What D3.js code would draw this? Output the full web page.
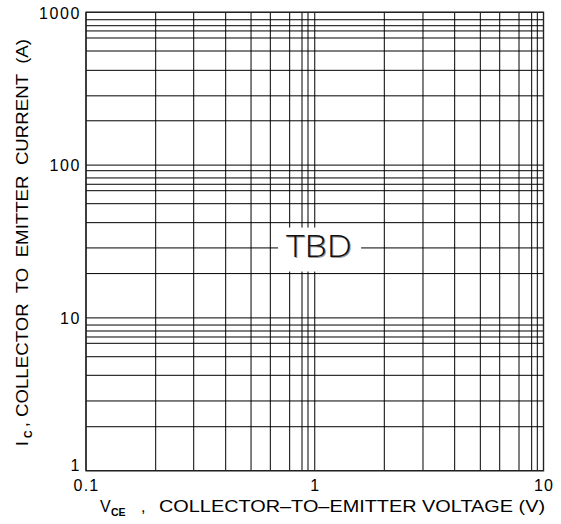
<!DOCTYPE html>
<html>
<head>
<meta charset="utf-8">
<script src="https://cdn.jsdelivr.net/npm/d3@7"></script>
<style>
  html, body { margin: 0; padding: 0; background: #fff; }
  svg { display: block; }
</style>
</head>
<body>
<svg id="chart" width="561" height="524"></svg>
<script>
// ---- data ----
const xDomain = [0.1, 10];
const yDomain = [1, 1000];
const xTickValues = [0.1, 1, 10];
const xTickLabels = ["0.1", "1", "10"];
const yTickValues = [1, 10, 100, 1000];
const yTickLabels = ["1", "10", "100", "1000"];
// grid lines as drawn in the reference (hand-drafted log grid)
const xGridValues = [0.1, 0.2017, 0.2957, 0.408, 0.5266, 0.6394, 0.777, 0.8796, 0.9344,
                     1, 2.014, 2.973, 4.09, 5.294, 6.435, 7.815, 8.878, 9.395, 10];
const yGridValues = [1, 1.94, 2.86, 4.21, 5.57, 6.82, 7.50, 8.21, 8.98,
                     10, 19.5, 28.7, 42.0, 55.9, 68.0, 74.9, 82.4, 91.9,
                     100, 195, 284, 417, 558, 679, 755, 817, 894, 1000];
const annotationText = "TBD";
const annotationAt = [1.05, 28];
const xTitleMain = "V";
const xTitleSub = "CE";
const xTitleRest = "COLLECTOR\u2013TO\u2013EMITTER VOLTAGE (V)";
const yTitleMain = "I";
const yTitleSub = "C";
const yTitleRest = "COLLECTOR  TO  EMITTER  CURRENT  (A)";

// ---- layout ----
const plot = { left: 86, right: 543.5, top: 12.3, bottom: 470.7 };
const svg = d3.select("#chart");

const x = d3.scaleLog().domain(xDomain).range([plot.left, plot.right]);
const y = d3.scaleLog().domain(yDomain).range([plot.bottom, plot.top]);

// grid
const g = svg.append("g");
g.selectAll("line.vx").data(xGridValues).join("line")
  .attr("class", "vx")
  .attr("x1", d => x(d)).attr("x2", d => x(d))
  .attr("y1", plot.top).attr("y2", plot.bottom)
  .attr("stroke", "#000").attr("stroke-width", 1);
g.selectAll("line.hy").data(yGridValues).join("line")
  .attr("class", "hy")
  .attr("x1", plot.left).attr("x2", plot.right)
  .attr("y1", d => y(d)).attr("y2", d => y(d))
  .attr("stroke", "#000").attr("stroke-width", 1);

// frame
svg.append("rect")
  .attr("x", plot.left).attr("y", plot.top)
  .attr("width", plot.right - plot.left).attr("height", plot.bottom - plot.top)
  .attr("fill", "none").attr("stroke", "#222").attr("stroke-width", 1.4);

// TBD annotation with white knock-out box
const ax = x(annotationAt[0]), ay = y(annotationAt[1]);
svg.append("rect")
  .attr("x", ax - 41.5).attr("y", ay - 22)
  .attr("width", 83).attr("height", 44)
  .attr("fill", "#fff");
const tbdFont = "'Open Sans', 'Liberation Sans', Arial, sans-serif";
svg.append("text")
  .attr("x", ax + 0.3).attr("y", ay + 8.8)
  .attr("text-anchor", "middle")
  .attr("font-family", tbdFont).attr("font-weight", 300)
  .attr("font-size", 32)
  .attr("textLength", 66).attr("lengthAdjust", "spacingAndGlyphs")
  .attr("fill", "#9a9a9a")
  .text(annotationText);
svg.append("text")
  .attr("x", ax - 0.7).attr("y", ay + 7.8)
  .attr("text-anchor", "middle")
  .attr("font-family", tbdFont).attr("font-weight", 300)
  .attr("font-size", 32)
  .attr("textLength", 66).attr("lengthAdjust", "spacingAndGlyphs")
  .attr("fill", "#111")
  .text(annotationText);

// axes (labels only; grid/frame drawn above)
const font = "Liberation Sans, Arial, sans-serif";
const xAxis = d3.axisBottom(x).tickValues(xTickValues)
  .tickFormat((d, i) => xTickLabels[i]).tickSize(0).tickPadding(0);
const xa = svg.append("g").attr("transform", `translate(0,${plot.bottom})`).call(xAxis);
xa.select(".domain").remove();
xa.selectAll("text")
  .attr("y", 20.5).attr("dy", null)
  .attr("font-family", font).attr("font-size", 16)
  .attr("letter-spacing", 1.2)
  .attr("fill", "#000");

const yAxis = d3.axisLeft(y).tickValues(yTickValues)
  .tickFormat((d, i) => yTickLabels[i]).tickSize(0).tickPadding(0);
const ya = svg.append("g").attr("transform", `translate(${plot.left - 5},0)`).call(yAxis);
ya.select(".domain").remove();
ya.selectAll("text")
  .attr("x", 0).attr("dy", "0.36em")
  .attr("font-family", font).attr("font-size", 16)
  .attr("letter-spacing", 1.6)
  .attr("fill", "#000");
ya.selectAll(".tick").filter(d => d === yDomain[0])
  .select("text").attr("dy", "0.0em");

// x title
const xt = svg.append("g").attr("font-family", font).attr("fill", "#000");
xt.append("text").attr("x", 100).attr("y", 511.5).attr("font-size", 16).text(xTitleMain);
xt.append("text").attr("x", 111).attr("y", 515.5).attr("font-size", 10.5)
  .attr("font-weight", "bold").text(xTitleSub);
xt.append("text").attr("x", 141).attr("y", 511.5).attr("font-size", 16).text(",");
xt.append("text").attr("x", 159).attr("y", 511.5).attr("font-size", 16)
  .attr("textLength", 386).attr("lengthAdjust", "spacingAndGlyphs")
  .text(xTitleRest);

// y title (rotated)
const yt = svg.append("g").attr("font-family", font).attr("fill", "#000")
  .attr("transform", "translate(28,0) rotate(-90)");
yt.append("text").attr("x", -446).attr("y", 0).attr("font-size", 17).text(yTitleMain);
yt.append("text").attr("x", -438).attr("y", 3.5).attr("font-size", 10.5)
  .attr("font-weight", "bold").text(yTitleSub);
yt.append("text").attr("x", -427).attr("y", 0).attr("font-size", 17).text(",");
yt.append("text").attr("x", -417).attr("y", 0).attr("font-size", 17)
  .attr("textLength", 378).attr("lengthAdjust", "spacingAndGlyphs")
  .style("white-space", "pre")
  .text(yTitleRest);
</script>
</body>
</html>
